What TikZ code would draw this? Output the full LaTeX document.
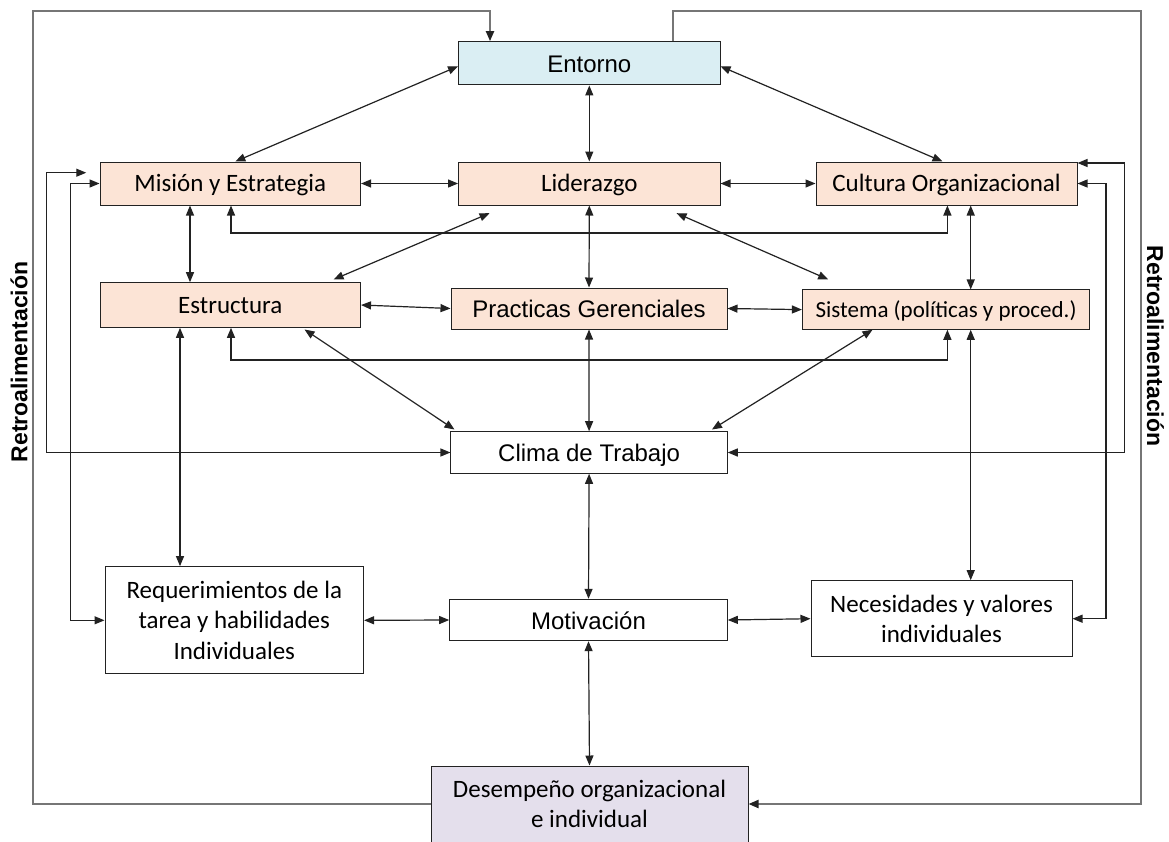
\documentclass[tikz,border=0pt]{standalone}
\usepackage{fontspec}
\setmainfont{Carlito}
\newfontfamily\arialfont{Liberation Sans}
\usetikzlibrary{arrows.meta}
\definecolor{peachfill}{HTML}{FCE4D6}
\definecolor{bluefill}{HTML}{DAEEF3}
\definecolor{lilacfill}{HTML}{E4DFEC}
\definecolor{linec}{HTML}{222222}
\definecolor{framec}{HTML}{767676}

\begin{document}
\begin{tikzpicture}[x=1pt,y=-1pt,
  >={Triangle[length=10pt,width=8pt]},
  box/.style={draw=linec, line width=1pt, inner sep=0pt, align=center, text=black},
  peach/.style={box, fill=peachfill},
  plain/.style={box, fill=white},
  cfont/.style={font=\fontsize{25}{30.5}\selectfont},
  sfont/.style={font=\fontsize{23}{28}\selectfont},
  afont/.style={font=\arialfont\fontsize{24}{29}\selectfont},
  cline/.style={text height=16pt, text depth=0pt},
  aline/.style={text height=18.5pt, text depth=0pt},
  conn/.style={draw=linec, line width=1.2pt, <->},
  frame/.style={draw=framec, line width=2pt},
  fb/.style={font=\arialfont\bfseries\fontsize{23}{28}\selectfont, text=black}
]
\useasboundingbox (0,0) rectangle (1169,841);
\fill[white] (0,0) rectangle (1169,841);

% columns and rows used by the routed connectors
\coordinate (xA) at (180,0);
\coordinate (xB) at (190,0);
\coordinate (xC) at (231,0);
\coordinate (xD) at (947.4,0);
\coordinate (xE) at (970.7,0);
\coordinate (xL1) at (46.7,0);
\coordinate (xL2) at (70.8,0);
\coordinate (xR1) at (1124.7,0);
\coordinate (xR2) at (1106,0);
\coordinate (xF1) at (490,0);
\coordinate (xF2) at (673,0);
\coordinate (xFL) at (32.5,0);
\coordinate (xFR) at (1140.5,0);
\coordinate (yF) at (0,10.5);
\coordinate (yL1) at (0,233);
\coordinate (yL2) at (0,360);

% boxes
\node[box, fill=bluefill, afont, aline, minimum width=261.5pt, minimum height=43.3pt] (ent) at (589.3,63.3) {Entorno};
\node[peach, cfont, cline, minimum width=260.5pt, minimum height=43pt] (mis) at (230.3,183.5) {Misión y Estrategia};
\node[peach, cfont, cline, minimum width=261.5pt, minimum height=43pt] (lid) at (589.3,183.5) {Liderazgo};
\node[peach, cfont, cline, minimum width=261pt, minimum height=43pt] (cul) at (946.5,183.5) {Cultura Organizacional};
\node[peach, cfont, cline, minimum width=260.5pt, minimum height=44.6pt] (est) at (230.3,305) {Estructura};
\node[peach, afont, aline, minimum width=276pt, minimum height=41pt] (pra) at (589,308.5) {Practicas Gerenciales};
\node[peach, sfont, cline, text height=15pt, minimum width=287.4pt, minimum height=39.3pt] (sis) at (946.1,309.6) {Sistema (políticas y proced.)};
\node[plain, afont, aline, minimum width=276.3pt, minimum height=41.6pt] (cli) at (589.1,452.5) {Clima de Trabajo};
\node[plain, cfont, minimum width=258.6pt, minimum height=107.3pt] (req) at (234.3,620.3) {Requerimientos de la\\tarea y habilidades\\Individuales};
\node[plain, afont, aline, minimum width=277.6pt, minimum height=41.4pt] (mot) at (588.5,620) {Motivación};
\node[plain, cfont, minimum width=261pt, minimum height=76pt] (nec) at (941.5,618.7) {Necesidades y valores\\individuales};
\node[box, fill=lilacfill, cfont, minimum width=317pt, minimum height=76pt] (des) at (589.5,804) {Desempeño organizacional\\e individual};

% feedback labels
\node[fb, rotate=90] (fbl) at (19,362) {Retroalimentación};
\node[fb, rotate=-90] (fbr) at (1155.5,346) {Retroalimentación};

% outer feedback frame
\draw[frame, -{Triangle[length=10pt,width=8pt,color=linec]}]
  (des.west) -- (des.west -| xFL) |- (yF -| xF1) -- (ent.north -| xF1);
\draw[frame, -{Triangle[length=10pt,width=8pt,color=linec]}]
  (ent.north -| xF2) -- (yF -| xF2) -| (des.east -| xFR) -- (des.east);

% connectors
\draw[conn] ([yshift=-3pt]ent.west) -- ([xshift=5pt]mis.north);
\draw[conn] ([yshift=-3pt]ent.east) -- ([xshift=-4pt]cul.north);
\draw[conn] (ent.south) -- (lid.north);
\draw[conn] (mis.east) -- (lid.west);
\draw[conn] (lid.east) -- (cul.west);
\draw[conn] (mis.south -| xB) -- (est.north -| xB);
\draw[conn] (mis.south -| xC) |- (yL1 -| xD) -- (cul.south -| xD);
\draw[conn] (cul.south -| xE) -- (sis.north -| xE);
\draw[conn] ([shift={(31.5,7.7)}]lid.south west) -- ([shift={(-27.5,-2.7)}]est.north east);
\draw[conn] ([shift={(-44,7.7)}]lid.south east) -- ([shift={(26.3,-10)}]sis.north west);
\draw[conn] (lid.south) -- (pra.north);
\draw[conn] (est.east) -- (pra.west);
\draw[conn] (pra.east) -- (sis.west);
\draw[conn] (est.south -| xC) |- (yL2 -| xD) -- (sis.south -| xD);
\draw[conn] ([shift={(-56.5,1.7)}]est.south east) -- ([shift={(4,-1.7)}]cli.north west);
\draw[conn] ([shift={(70.6,0)}]sis.south west) -- ([shift={(-15.8,-1.7)}]cli.north east);
\draw[conn] (pra.south) -- (cli.north);
\draw[conn] (est.south -| xA) -- (req.north -| xA);
\draw[conn] (cli.west) -- (cli.west -| xL1) |- ([shift={(-13.3,-10.8)}]mis.west);
\draw[conn] (req.west) -- (req.west -| xL2) |- (mis.west);
\draw[conn] (cli.east) -- (cli.east -| xR1) |- ([yshift=20.5pt]cul.east);
\draw[conn] (nec.east) -- (nec.east -| xR2) |- (cul.east);
\draw[conn] (sis.south -| xE) -- (nec.north -| xE);
\draw[conn] (cli.south) -- (mot.north);
\draw[conn] (req.east) -- (mot.west);
\draw[conn] (mot.east) -- (nec.west);
\draw[conn] (mot.south) -- (des.north);
\end{tikzpicture}
\end{document}
